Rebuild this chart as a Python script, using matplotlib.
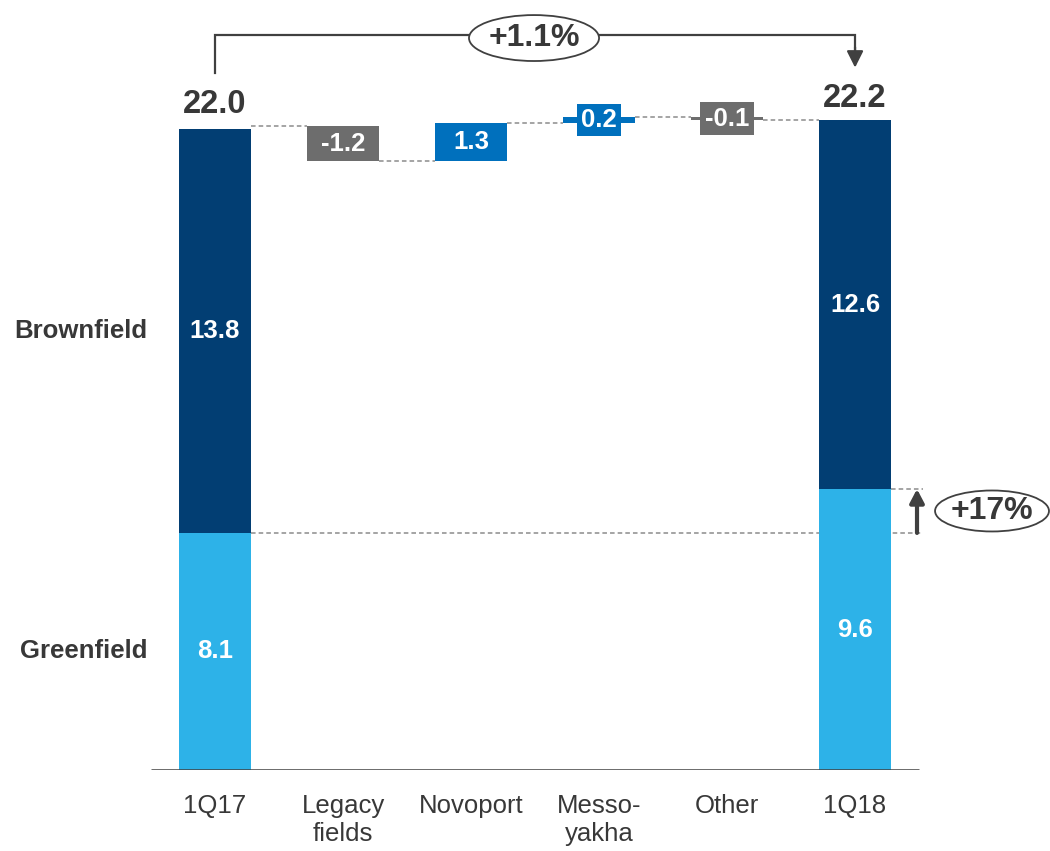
import matplotlib
matplotlib.use("Agg")
import matplotlib.pyplot as plt
from matplotlib.patches import Ellipse, Rectangle

plt.rcParams['font.family'] = ['Liberation Sans', 'DejaVu Sans']

# ---- data ----
categories = ["1Q17", "Legacy\nfields", "Novoport", "Messo-\nyakha", "Other", "1Q18"]
greenfield = [8.1, 9.6]          # 1Q17, 1Q18
brownfield = [13.8, 12.6]        # 1Q17, 1Q18
totals = [22.0, 22.2]            # stated totals for 1Q17, 1Q18
deltas = [-1.2, 1.3, 0.2, -0.1]  # Legacy fields, Novoport, Messoyakha, Other
total_change = "+1.1%"
greenfield_change = "+17%"

# ---- styling ----
C_BROWN = "#023E73"
C_GREEN = "#2DB2E8"
C_POS = "#0070BD"
C_NEG = "#6D6D6D"
C_TEXT = "#383838"
C_LINE = "#404040"
C_DASH = "#8C8C8C"
BAR_W = 0.5625
FS_IN = 18.5     # labels inside bars
FS_TOT = 23.5    # totals above end bars
FS_ROW = 18.5    # Brownfield / Greenfield
FS_CAT = 18.5    # category labels
FS_CHG = 23      # change bubbles

fig = plt.figure(figsize=(10.5, 8.51), dpi=100)
ax = fig.add_axes([0, 0.0952, 1, 0.9048])
ax.set_xlim(-1.68, 6.523)
ax.set_ylim(0, 26.31)
ax.axis("off")

end_pos = [0, len(categories) - 1]

# stacked end bars
ax.bar(end_pos, greenfield, width=BAR_W, color=C_GREEN, zorder=2)
ax.bar(end_pos, brownfield, bottom=greenfield, width=BAR_W, color=C_BROWN, zorder=2)

for x, g, b, t in zip(end_pos, greenfield, brownfield, totals):
    ax.text(x, g / 2, f"{g:.1f}", ha="center", va="center", color="white",
            fontsize=FS_IN, fontweight="bold", zorder=4)
    ax.text(x, g + b / 2, f"{b:.1f}", ha="center", va="center", color="white",
            fontsize=FS_IN, fontweight="bold", zorder=4)
    ax.text(x, t + 0.44, f"{t:.1f}", ha="center", va="baseline", color=C_TEXT,
            fontsize=FS_TOT, fontweight="bold", zorder=4)

# row labels on the left
ax.text(-0.53, greenfield[0] + brownfield[0] / 2, "Brownfield", ha="right", va="center",
        color=C_TEXT, fontsize=FS_ROW, fontweight="bold")
ax.text(-0.53, greenfield[0] / 2, "Greenfield", ha="right", va="center",
        color=C_TEXT, fontsize=FS_ROW, fontweight="bold")

# waterfall steps
level = totals[0]
half = BAR_W / 2
for i, d in enumerate(deltas, start=1):
    bottom = level + min(d, 0)
    height = abs(d)
    color = C_POS if d > 0 else C_NEG
    ax.bar(i, height, bottom=bottom, width=BAR_W, color=color, zorder=2)
    # connector from previous bar
    ax.plot([i - 1 + half, i - half], [level, level], ls=(0, (3, 2)), lw=1.1,
            color=C_DASH, zorder=1)
    label = f"{d:+.1f}" if d < 0 else f"{d:.1f}"
    mid = bottom + height / 2
    if height < 0.6:
        # thin step: draw a label box over it
        bw = 0.35 if d > 0 else 0.42
        bh = 1.09 if d > 0 else 1.13
        ax.add_patch(Rectangle((i - bw / 2, mid - bh / 2), bw, bh, facecolor=color,
                               edgecolor="none", zorder=3))
    ax.text(i, mid, label, ha="center", va="center", color="white",
            fontsize=FS_IN, fontweight="bold", zorder=4)
    level = level + d

# connector into final bar
n = len(categories) - 1
ax.plot([n - 1 + half, n - half], [level, level], ls=(0, (3, 2)), lw=1.1,
        color=C_DASH, zorder=1)

# overall change bracket
y_br = 25.11
ax.plot([0, 0, 2.492 - 0.508], [23.81, y_br, y_br], color=C_LINE, lw=1.6,
        solid_joinstyle="miter", zorder=3)
ax.plot([2.492 + 0.508, n, n], [y_br, y_br, 24.6], color=C_LINE, lw=1.6,
        solid_joinstyle="miter", zorder=3)
ax.annotate("", xy=(n, 24.0), xytext=(n, 24.7),
            arrowprops=dict(arrowstyle="-|>,head_length=1.0,head_width=0.5",
                            color=C_LINE, lw=1.6, shrinkA=0, shrinkB=0), zorder=3)
ax.add_patch(Ellipse((2.492, 25.01), 1.016, 1.57, facecolor="white",
                     edgecolor=C_LINE, lw=1.3, zorder=4))
ax.text(2.492, 25.01, total_change, ha="center", va="center", color=C_TEXT,
        fontsize=FS_CHG, fontweight="bold", zorder=5)

# greenfield change marker
x_arr = 5.484
ax.plot([half, 5.53], [greenfield[0], greenfield[0]], ls=(0, (3, 2)), lw=1.1,
        color=C_DASH, zorder=1)
ax.plot([n + half, 5.53], [greenfield[1], greenfield[1]], ls=(0, (3, 2)), lw=1.1,
        color=C_DASH, zorder=1)
ax.annotate("", xy=(x_arr, greenfield[1]), xytext=(x_arr, greenfield[0]),
            arrowprops=dict(arrowstyle="-|>,head_length=0.8,head_width=0.42",
                            color=C_LINE, lw=3.0, shrinkA=0, shrinkB=0), zorder=3)
ax.add_patch(Ellipse((6.07, 8.85), 0.89, 1.40, facecolor="white",
                     edgecolor=C_LINE, lw=1.3, zorder=4, clip_on=False))
ax.text(6.07, 8.85, greenfield_change, ha="center", va="center", color=C_TEXT,
        fontsize=FS_CHG, fontweight="bold", zorder=5)

# baseline and category labels
ax.plot([-0.5, n + 0.5], [0, 0], color=C_LINE, lw=1.8, zorder=3, solid_capstyle="butt")
for i, c in enumerate(categories):
    ax.text(i, -0.82, c, ha="center", va="top", color=C_TEXT, fontsize=FS_CAT,
            linespacing=1.2)

fig.savefig("out.png", dpi=100)
